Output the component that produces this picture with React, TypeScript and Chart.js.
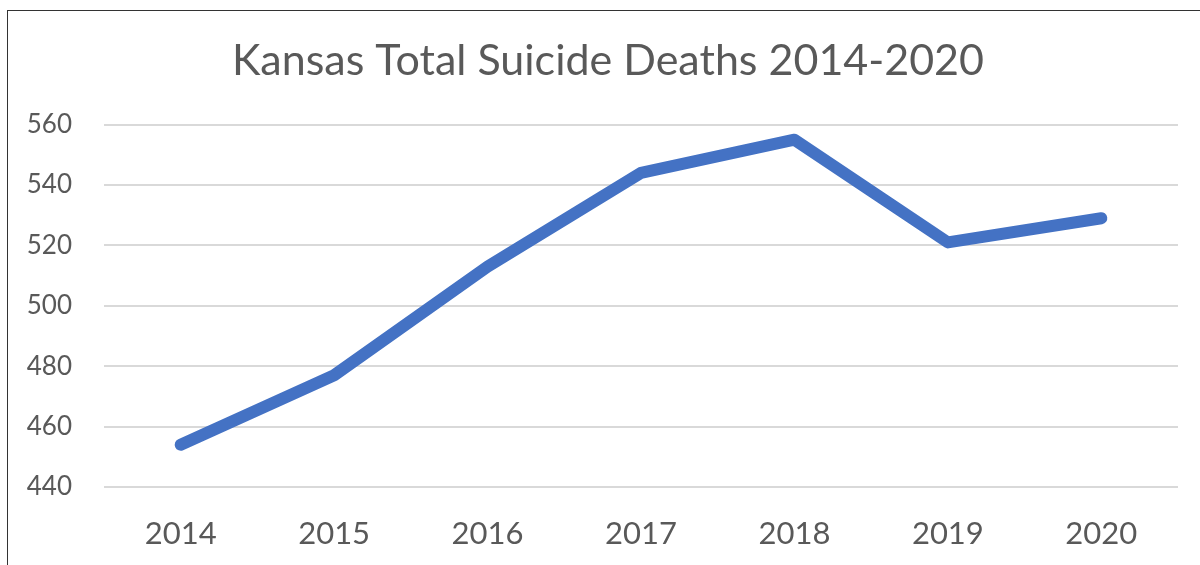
import React, { useEffect, useRef } from "react";
import { Chart, registerables } from "chart.js";

Chart.register(...registerables);

const years = ["2014", "2015", "2016", "2017", "2018", "2019", "2020"];
const deaths = [454, 477, 513, 544, 555, 521, 529];
const titleText = "Kansas Total Suicide Deaths 2014-2020";
const yMin = 440;
const yMax = 560;
const yStep = 20;

const FONT = "Lato, 'Open Sans', sans-serif";
const TEXT = "#595959";

export default function App() {
  const ref = useRef<HTMLCanvasElement | null>(null);

  useEffect(() => {
    if (!ref.current) return;
    const chart = new Chart(ref.current, {
      type: "line",
      data: {
        labels: years,
        datasets: [
          {
            data: deaths,
            yAxisID: "y",
            borderColor: "#4472C4",
            backgroundColor: "#4472C4",
            borderWidth: 12,
            borderCapStyle: "round",
            borderJoinStyle: "round",
            pointRadius: 0,
            tension: 0,
            fill: false,
          },
        ],
      },
      options: {
        responsive: false,
        animation: false,
        layout: { padding: { left: 16, right: 0, top: 0, bottom: 0 } },
        plugins: {
          legend: { display: false },
          tooltip: { enabled: false },
          title: {
            display: true,
            text: titleText,
            color: TEXT,
            font: { family: FONT, size: 43, weight: "normal", lineHeight: 1.2 },
            padding: { top: 35, bottom: 38 },
          },
        },
        scales: {
          x: {
            offset: true,
            grid: { display: false, drawTicks: false },
            border: { display: false },
            ticks: {
              color: TEXT,
              font: { family: FONT, size: 31 },
              padding: 28,
              maxRotation: 0,
            },
            afterFit: (s: any) => {
              s.height = 78;
            },
          },
          y: {
            min: yMin,
            max: yMax,
            grid: { color: "#d9d9d9", lineWidth: 2, drawTicks: false },
            border: { display: false },
            ticks: {
              stepSize: yStep,
              color: TEXT,
              font: { family: FONT, size: 26 },
              padding: 32,
            },
            afterFit: (s: any) => {
              s.width = 88;
            },
          },
          yRight: {
            position: "right",
            display: true,
            grid: { display: false, drawTicks: false },
            border: { display: false },
            ticks: { display: false },
            afterFit: (s: any) => {
              s.width = 22;
            },
          },
        },
      } as any,
    });
    return () => chart.destroy();
  }, []);

  return (
    <div
      style={{
        position: "fixed",
        left: 0,
        top: 0,
        width: 1200,
        height: 565,
        background: "#fff",
        overflow: "hidden",
      }}
    >
      <div
        style={{
          position: "absolute",
          left: 7,
          top: 10,
          width: 1300,
          height: 700,
          borderLeft: "1.5px solid #333",
          borderTop: "1.5px solid #333",
        }}
      />
      <canvas
        ref={ref}
        width={1200}
        height={565}
        style={{ position: "absolute", left: 0, top: 0 }}
      />
    </div>
  );
}
